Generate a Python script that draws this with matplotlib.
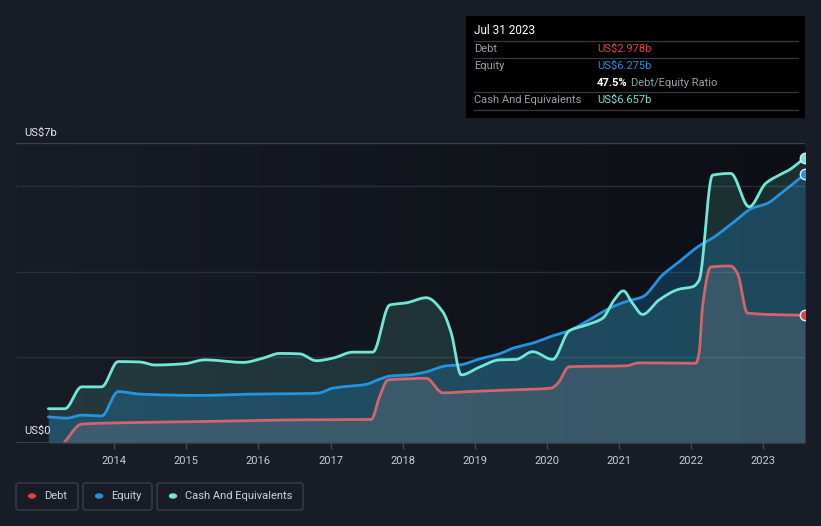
import numpy as np
import matplotlib
matplotlib.use("Agg")
import matplotlib.pyplot as plt
from matplotlib.patches import Rectangle, FancyBboxPatch, Circle
from matplotlib.lines import Line2D

plt.rcParams['font.family'] = ['Roboto', 'DejaVu Sans']

# ---------------- data (decimal years, US$ billions) ----------------
cash_t = [2013.086, 2013.317, 2013.548, 2013.825, 2014.055, 2014.356, 2014.564, 2014.979,
          2015.256, 2015.787, 2016.064, 2016.295, 2016.572, 2016.803, 2017.033, 2017.310,
          2017.587, 2017.819, 2018.050, 2018.327, 2018.557, 2018.673, 2018.812, 2019.065,
          2019.342, 2019.573, 2019.803, 2020.080, 2020.312, 2020.543, 2020.773, 2020.935,
          2021.060, 2021.188, 2021.327, 2021.558, 2021.835, 2022.029, 2022.112, 2022.296,
          2022.551, 2022.805, 2023.036, 2023.220, 2023.359, 2023.580]
cash_v = [0.80, 0.80, 1.31, 1.31, 1.90, 1.89, 1.82, 1.85,
          1.94, 1.88, 1.98, 2.09, 2.08, 1.92, 1.98, 2.12,
          2.12, 3.22, 3.27, 3.39, 3.06, 2.57, 1.59, 1.77,
          1.94, 1.95, 2.13, 1.95, 2.62, 2.75, 2.91, 3.34,
          3.55, 3.26, 3.00, 3.34, 3.59, 3.65, 3.80, 6.25,
          6.29, 5.51, 6.06, 6.25, 6.37, 6.657]

equity_t = [2013.086, 2013.341, 2013.548, 2013.825, 2014.055, 2014.356, 2015.187, 2015.880,
            2016.803, 2016.849, 2017.033, 2017.496, 2017.680, 2017.819, 2018.096, 2018.327,
            2018.604, 2018.788, 2019.065, 2019.342, 2019.526, 2019.803, 2020.080, 2020.312,
            2020.543, 2020.866, 2021.097, 2021.327, 2021.604, 2021.835, 2022.112, 2022.296,
            2022.573, 2022.850, 2023.058, 2023.220, 2023.580]
equity_v = [0.61, 0.58, 0.65, 0.63, 1.20, 1.14, 1.11, 1.14,
            1.16, 1.17, 1.28, 1.37, 1.49, 1.56, 1.59, 1.66,
            1.80, 1.82, 1.96, 2.08, 2.21, 2.33, 2.50, 2.62,
            2.83, 3.14, 3.30, 3.41, 3.92, 4.23, 4.60, 4.78,
            5.13, 5.48, 5.59, 5.79, 6.275]

debt_t = [2013.300, 2013.548, 2013.800, 2015.187, 2016.572, 2017.565, 2017.680, 2017.795,
          2017.957, 2018.327, 2018.557, 2018.927, 2019.526, 2020.058, 2020.150, 2020.312,
          2021.097, 2021.281, 2022.066, 2022.112, 2022.160, 2022.274, 2022.551, 2022.643,
          2022.782, 2023.580]
debt_v = [0.00, 0.44, 0.46, 0.50, 0.54, 0.55, 1.08, 1.47,
          1.49, 1.51, 1.17, 1.20, 1.24, 1.28, 1.39, 1.78,
          1.80, 1.87, 1.86, 2.10, 3.20, 4.11, 4.13, 3.96,
          3.03, 2.978]

year_ticks = list(range(2014, 2024))
tooltip_date = "Jul 31 2023"
debt_label, equity_label, ratio_label, cash_label = "US$2.978b", "US$6.275b", "47.5%", "US$6.657b"


def pchip_curve(x, y, n_per=12):
    """Monotone cubic (Fritsch-Carlson) curve through the given points, for smooth drawing."""
    x = np.asarray(x, float)
    y = np.asarray(y, float)
    h = np.diff(x)
    delta = np.diff(y) / h
    n = len(x)
    d = np.zeros(n)
    d[0] = delta[0]
    d[-1] = delta[-1]
    for k in range(1, n - 1):
        if delta[k - 1] * delta[k] <= 0:
            d[k] = 0.0
        else:
            w1 = 2 * h[k] + h[k - 1]
            w2 = h[k] + 2 * h[k - 1]
            d[k] = (w1 + w2) / (w1 / delta[k - 1] + w2 / delta[k])
    xs, ys = [], []
    for k in range(n - 1):
        t = np.linspace(0, 1, n_per, endpoint=False)
        h00 = 2 * t**3 - 3 * t**2 + 1
        h10 = t**3 - 2 * t**2 + t
        h01 = -2 * t**3 + 3 * t**2
        h11 = t**3 - t**2
        xs.append(x[k] + t * h[k])
        ys.append(h00 * y[k] + h10 * h[k] * d[k] + h01 * y[k + 1] + h11 * h[k] * d[k + 1])
    xs.append([x[-1]])
    ys.append([y[-1]])
    return np.concatenate(xs), np.concatenate(ys)


# ---------------- styling ----------------
W, H = 821, 526
BG = '#181c26'
C_CASH = '#71e7d6'
C_EQ = '#2394df'
C_DEBT_LINE = '#d3646c'
C_DEBT = '#e64141'
FS = 8


def fx(px):
    return px / W


def fy(py):
    return 1 - py / H


fig = plt.figure(figsize=(W / 100, H / 100), dpi=100, facecolor=BG)
ax = fig.add_axes([fx(16), fy(443), fx(805) - fx(16), fy(143) - fy(443)])
ax.set_facecolor(BG)
x0, x1 = 2012.638, 2023.58
ax.set_xlim(x0, x1)
ax.set_ylim(0, 7)

# horizontal darkening gradient across plot area
grad = np.linspace(0, 1, 256).reshape(1, -1)
c_left = np.array([0x18, 0x1c, 0x26]) / 255
c_right = np.array([0x0c, 0x0f, 0x14]) / 255
img = c_left[None, None, :] * (1 - grad[..., None]) + c_right[None, None, :] * grad[..., None]
ax.imshow(img, extent=[x0, x1, 0, 7], aspect='auto', zorder=0, interpolation='bilinear')

# grid
for v, col in [(2, '#2a2f38'), (4, '#2a2f38'), (6, '#2a2f38'), (7, '#3c414a')]:
    ax.axhline(v, color=col, lw=1.0, zorder=1)
ax.axhline(0, color='#444952', lw=1.2, zorder=6)

cx, cy = pchip_curve(cash_t, cash_v)
ex, ey = pchip_curve(equity_t, equity_v)
dx, dy = pchip_curve(debt_t, debt_v)
dy = np.maximum(dy, 0)

# fills
ax.fill_between(cx, 0, cy, color=C_CASH, alpha=0.15, lw=0, zorder=2)
ax.fill_between(ex, 0, ey, color=C_EQ, alpha=0.25, lw=0, zorder=2.1)
ax.fill_between(dx, 0, dy, color='#9a8c94', alpha=0.22, lw=0, zorder=2.2)

# lines
kw = dict(lw=2.0, solid_joinstyle='round', solid_capstyle='round')
ax.plot(dx, dy, color=C_DEBT_LINE, zorder=3, **kw)
ax.plot(ex, ey, color=C_EQ, zorder=3.1, **kw)
ax.plot(cx, cy, color=C_CASH, zorder=3.2, **kw)

# end markers
for t, v, c in [(debt_t[-1], debt_v[-1], C_DEBT), (equity_t[-1], equity_v[-1], C_EQ),
                (cash_t[-1], cash_v[-1], C_CASH)]:
    ax.plot([t], [v], 'o', ms=7.5, mfc=c, mec='#e8eef0', mew=1.0, zorder=5, clip_on=True)

for s in ax.spines.values():
    s.set_visible(False)
ax.set_yticks([])
ax.set_xticks(year_ticks)
ax.set_xticklabels([str(y) for y in year_ticks], color='#c9cdd3', fontsize=FS)
ax.tick_params(axis='x', length=4, width=1, color='#444952', pad=5)

# y labels
fig.text(fx(24), fy(133), "US$7b", color='#e6e8eb', fontsize=FS, va='center', ha='left')
fig.text(fx(24), fy(431), "US$0", color='#e6e8eb', fontsize=FS, va='center', ha='left')

# tooltip
fig.patches.append(Rectangle((fx(466), fy(118)), fx(805) - fx(466), fy(16) - fy(118),
                             transform=fig.transFigure, facecolor='#000000', edgecolor='none', zorder=10))
fig.text(fx(474), fy(31), tooltip_date, color='#ffffff', fontsize=8.5, va='center', ha='left', zorder=11)
for yy in [41, 58, 92, 110]:
    fig.lines.append(Line2D([fx(474), fx(798)], [fy(yy), fy(yy)], transform=fig.transFigure,
                            color='#3a3a3c', lw=0.9, zorder=11))
LG = '#9aa0a8'
fig.text(fx(474), fy(49), "Debt", color=LG, fontsize=FS, va='center', ha='left', zorder=11)
fig.text(fx(597), fy(49), debt_label, color=C_DEBT, fontsize=FS, va='center', ha='left', zorder=11)
fig.text(fx(474), fy(66), "Equity", color=LG, fontsize=FS, va='center', ha='left', zorder=11)
fig.text(fx(597), fy(66), equity_label, color=C_EQ, fontsize=FS, va='center', ha='left', zorder=11)
fig.text(fx(597), fy(83), ratio_label, color='#ffffff', fontsize=FS, fontweight='bold', va='center', ha='left', zorder=11)
fig.text(fx(631), fy(83), "Debt/Equity Ratio", color=LG, fontsize=FS, va='center', ha='left', zorder=11)
fig.text(fx(474), fy(100), "Cash And Equivalents", color=LG, fontsize=FS, va='center', ha='left', zorder=11)
fig.text(fx(597), fy(100), cash_label, color=C_CASH, fontsize=FS, va='center', ha='left', zorder=11)

# legend
legend_items = [("Debt", C_DEBT, 16, 78), ("Equity", C_EQ, 83, 152), ("Cash And Equivalents", C_CASH, 157, 303)]
for label, col, l, r in legend_items:
    fig.patches.append(FancyBboxPatch((fx(l), fy(510)), fx(r) - fx(l), fy(483) - fy(510),
                                      boxstyle="round,pad=0,rounding_size=0.004", transform=fig.transFigure,
                                      facecolor='none', edgecolor='#3a3f49', lw=1.0))
    fig.patches.append(Circle((fx(l + 16), fy(496)), 4.2 / W, transform=fig.transFigure,
                              facecolor=col, edgecolor='none'))
    fig.text(fx(l + 28), fy(496), label, color='#d0d3d8', fontsize=FS, va='center', ha='left')

fig.savefig("out.png", dpi=100, facecolor=BG)
